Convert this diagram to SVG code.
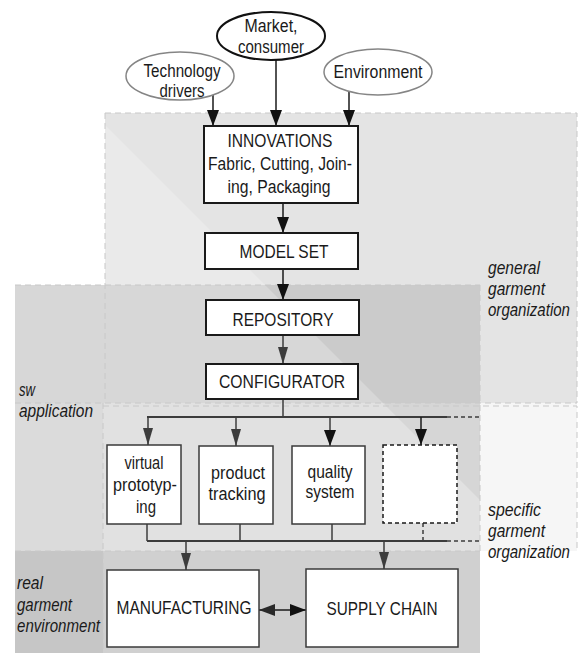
<svg xmlns="http://www.w3.org/2000/svg" width="581" height="653" viewBox="0 0 581 653">
  <defs>
    <style>
      .lbl { font-family: "Liberation Sans", Arial, sans-serif; font-size: 17.5px; fill: #1a1a1a; text-anchor: middle; }
      .side { font-family: "Liberation Sans", Arial, sans-serif; font-size: 17.5px; font-style: italic; fill: #1a1a1a; }
      .box { fill: #ffffff; stroke: #1a1a1a; stroke-width: 2; }
      .sub { fill: #ffffff; stroke: #3a3a3a; stroke-width: 1.5; }
      .dbox { fill: #ffffff; stroke: #1a1a1a; stroke-width: 1.5; stroke-dasharray: 4 3; }
      .zone { stroke: #c8c8c8; stroke-width: 1; stroke-dasharray: 6 4; fill: none; }
      .wire { stroke: #1a1a1a; stroke-width: 1.5; fill: none; }
      .gwire { stroke: #3c3c3c; stroke-width: 1.5; fill: none; }
      .bus { stroke: #3c3c3c; stroke-width: 2; fill: none; }
      .dash { stroke: #3c3c3c; stroke-width: 1.5; stroke-dasharray: 4 3; fill: none; }
    </style>
    <marker id="ah" viewBox="0 0 16 12" markerWidth="16" markerHeight="12" refX="16" refY="6" orient="auto" markerUnits="userSpaceOnUse">
      <path d="M0,0 L16,6 L0,12 z" fill="#111111"/>
    </marker>
    <marker id="ahg" viewBox="0 0 17 10" markerWidth="17" markerHeight="10" refX="17" refY="5" orient="auto" markerUnits="userSpaceOnUse">
      <path d="M0,0 L17,5 L0,10 z" fill="#3c3c3c"/>
    </marker>
    <marker id="ahs" viewBox="0 0 16 12" markerWidth="16" markerHeight="12" refX="0" refY="6" orient="auto" markerUnits="userSpaceOnUse">
      <path d="M16,0 L0,6 L16,12 z" fill="#2a2a2a"/>
    </marker>
  </defs>

  <rect width="581" height="653" fill="#ffffff"/>

  <!-- organisational zones -->
  <g id="zones">
    <!-- general garment organization -->
    <rect x="105" y="113" width="472" height="290" fill="#eaeaea"/>
    <polygon points="105,113 577,113 577,403 383,403 105,125" fill="#e4e4e4"/>
    <!-- sw application -->
    <rect x="15" y="285" width="465" height="118" fill="#d7d7d7"/>
    <polygon points="265,285 480,285 480,403 383,403" fill="#cbcbcb"/>
    <rect x="15" y="403" width="88" height="148" fill="#dbdbdb"/>
    <!-- specific garment organization -->
    <rect x="103" y="403" width="377" height="148" fill="#e1e1e1"/>
    <polygon points="383,403 480,403 480,500" fill="#d6d6d6"/>
    <rect x="480" y="403" width="97" height="148" fill="#f6f6f6"/>
    <!-- real garment environment -->
    <rect x="15" y="551" width="88" height="102" fill="#c6c6c6"/>
    <rect x="103" y="551" width="377" height="102" fill="#d0d0d0"/>

    <path class="zone" d="M105,113 H577 V403 M105,113 V403 M15,285 H480 M15,403 H577 M103,406 H577 V551 M480,285 V551 M103,403 V653 M15,551 H480"/>
  </g>

  <!-- connectors -->
  <g id="connectors">
    <line class="wire" x1="213" y1="95" x2="213" y2="126" marker-end="url(#ah)"/>
    <line class="wire" x1="276" y1="60" x2="276" y2="126" marker-end="url(#ah)"/>
    <line class="wire" x1="349" y1="91" x2="349" y2="126" marker-end="url(#ah)"/>
    <line class="wire" x1="283" y1="203" x2="283" y2="233" marker-end="url(#ah)"/>
    <line class="wire" x1="283" y1="269" x2="283" y2="300" marker-end="url(#ah)"/>
    <line class="gwire" x1="283" y1="335" x2="283" y2="364" marker-end="url(#ahg)"/>
    <line class="gwire" x1="283" y1="399" x2="283" y2="417"/>

    <!-- distribution bus -->
    <line class="bus" x1="147" y1="417" x2="447" y2="417"/>
    <line class="dash" x1="447" y1="417" x2="480" y2="417"/>
    <line class="gwire" x1="148" y1="417" x2="148" y2="445" marker-end="url(#ahg)"/>
    <line class="gwire" x1="236" y1="417" x2="236" y2="446" marker-end="url(#ahg)"/>
    <line class="gwire" x1="330" y1="417" x2="330" y2="446" marker-end="url(#ah)"/>
    <line class="wire" x1="421" y1="417" x2="421" y2="445" marker-end="url(#ah)"/>

    <!-- collection bus -->
    <line class="gwire" x1="147" y1="524" x2="147" y2="541" stroke-width="1"/>
    <line class="gwire" x1="240" y1="524" x2="240" y2="541" stroke-width="1"/>
    <line class="gwire" x1="332" y1="524" x2="332" y2="541" stroke-width="1"/>
    <line class="dash" x1="423" y1="523" x2="423" y2="541" stroke-width="1"/>
    <line class="bus" x1="147" y1="541" x2="447" y2="541"/>
    <line class="dash" x1="447" y1="541" x2="480" y2="541"/>
    <line class="gwire" x1="186" y1="541" x2="186" y2="570" marker-end="url(#ahg)"/>
    <line class="gwire" x1="384" y1="541" x2="384" y2="569" marker-end="url(#ahg)"/>

    <line class="wire" x1="259" y1="610" x2="306" y2="610" stroke="#2a2a2a" marker-start="url(#ahs)" marker-end="url(#ah)"/>
  </g>

  <!-- drivers -->
  <g id="market">
    <ellipse cx="271" cy="36" rx="54" ry="24" fill="#ffffff" stroke="#111111" stroke-width="2"/>
    <text class="lbl" x="271" y="32" textLength="53" lengthAdjust="spacingAndGlyphs">Market,</text>
    <text class="lbl" x="271" y="53" textLength="66" lengthAdjust="spacingAndGlyphs">consumer</text>
  </g>
  <g id="technology">
    <ellipse cx="180" cy="76" rx="54" ry="24" fill="#ffffff" stroke="#858585" stroke-width="1.5"/>
    <text class="lbl" x="182" y="77" textLength="77" lengthAdjust="spacingAndGlyphs">Technology</text>
    <text class="lbl" x="182" y="97" textLength="45" lengthAdjust="spacingAndGlyphs">drivers</text>
  </g>
  <g id="environment">
    <ellipse cx="378" cy="72" rx="54" ry="23" fill="#ffffff" stroke="#858585" stroke-width="1.5"/>
    <text class="lbl" x="378" y="78" textLength="89" lengthAdjust="spacingAndGlyphs">Environment</text>
  </g>

  <!-- core chain -->
  <g id="innovations">
    <rect class="box" x="204" y="126" width="154" height="77"/>
    <text class="lbl" x="280" y="147" textLength="105" lengthAdjust="spacingAndGlyphs">INNOVATIONS</text>
    <text class="lbl" x="280" y="170" textLength="144" lengthAdjust="spacingAndGlyphs">Fabric, Cutting, Join-</text>
    <text class="lbl" x="279" y="193" textLength="103" lengthAdjust="spacingAndGlyphs">ing, Packaging</text>
  </g>
  <g id="model-set">
    <rect class="box" x="205" y="233" width="153" height="36"/>
    <text class="lbl" x="284" y="258" textLength="89" lengthAdjust="spacingAndGlyphs">MODEL SET</text>
  </g>
  <g id="repository">
    <rect class="box" x="206" y="300" width="153" height="35"/>
    <text class="lbl" x="283" y="326" textLength="101" lengthAdjust="spacingAndGlyphs">REPOSITORY</text>
  </g>
  <g id="configurator">
    <rect class="box" x="206" y="364" width="152" height="35"/>
    <text class="lbl" x="282" y="388" textLength="126" lengthAdjust="spacingAndGlyphs">CONFIGURATOR</text>
  </g>

  <!-- applications -->
  <g id="virtual-prototyping">
    <rect class="sub" x="107" y="445" width="74" height="79"/>
    <text class="lbl" x="144" y="469" textLength="39" lengthAdjust="spacingAndGlyphs">virtual</text>
    <text class="lbl" x="145" y="491" textLength="64" lengthAdjust="spacingAndGlyphs">prototyp-</text>
    <text class="lbl" x="146" y="513" textLength="20" lengthAdjust="spacingAndGlyphs">ing</text>
  </g>
  <g id="product-tracking">
    <rect class="sub" x="199" y="446" width="74" height="78"/>
    <text class="lbl" x="238" y="479" textLength="54" lengthAdjust="spacingAndGlyphs">product</text>
    <text class="lbl" x="237" y="500" textLength="57" lengthAdjust="spacingAndGlyphs">tracking</text>
  </g>
  <g id="quality-system">
    <rect class="sub" x="292" y="446" width="73" height="78"/>
    <text class="lbl" x="330" y="478" textLength="45" lengthAdjust="spacingAndGlyphs">quality</text>
    <text class="lbl" x="330" y="498" textLength="49" lengthAdjust="spacingAndGlyphs">system</text>
  </g>
  <g id="further-application">
    <rect class="dbox" x="383" y="445" width="74" height="78"/>
  </g>

  <!-- real environment -->
  <g id="manufacturing">
    <rect class="sub" x="107" y="570" width="152" height="77"/>
    <text class="lbl" x="184" y="614" textLength="135" lengthAdjust="spacingAndGlyphs">MANUFACTURING</text>
  </g>
  <g id="supply-chain">
    <rect class="sub" x="306" y="569" width="152" height="78"/>
    <text class="lbl" x="382" y="615" textLength="111" lengthAdjust="spacingAndGlyphs">SUPPLY CHAIN</text>
  </g>

  <!-- zone captions -->
  <g id="captions">
    <text class="side" x="488" y="274" textLength="52" lengthAdjust="spacingAndGlyphs">general</text>
    <text class="side" x="488" y="295" textLength="57" lengthAdjust="spacingAndGlyphs">garment</text>
    <text class="side" x="488" y="316" textLength="82" lengthAdjust="spacingAndGlyphs">organization</text>
    <text class="side" x="19" y="396" textLength="16" lengthAdjust="spacingAndGlyphs">sw</text>
    <text class="side" x="19" y="417" textLength="74" lengthAdjust="spacingAndGlyphs">application</text>
    <text class="side" x="488" y="516" textLength="53" lengthAdjust="spacingAndGlyphs">specific</text>
    <text class="side" x="488" y="537" textLength="57" lengthAdjust="spacingAndGlyphs">garment</text>
    <text class="side" x="488" y="558" textLength="82" lengthAdjust="spacingAndGlyphs">organization</text>
    <text class="side" x="17" y="589" textLength="26" lengthAdjust="spacingAndGlyphs">real</text>
    <text class="side" x="17" y="611" textLength="55" lengthAdjust="spacingAndGlyphs">garment</text>
    <text class="side" x="17" y="632" textLength="83" lengthAdjust="spacingAndGlyphs">environment</text>
  </g>
</svg>
